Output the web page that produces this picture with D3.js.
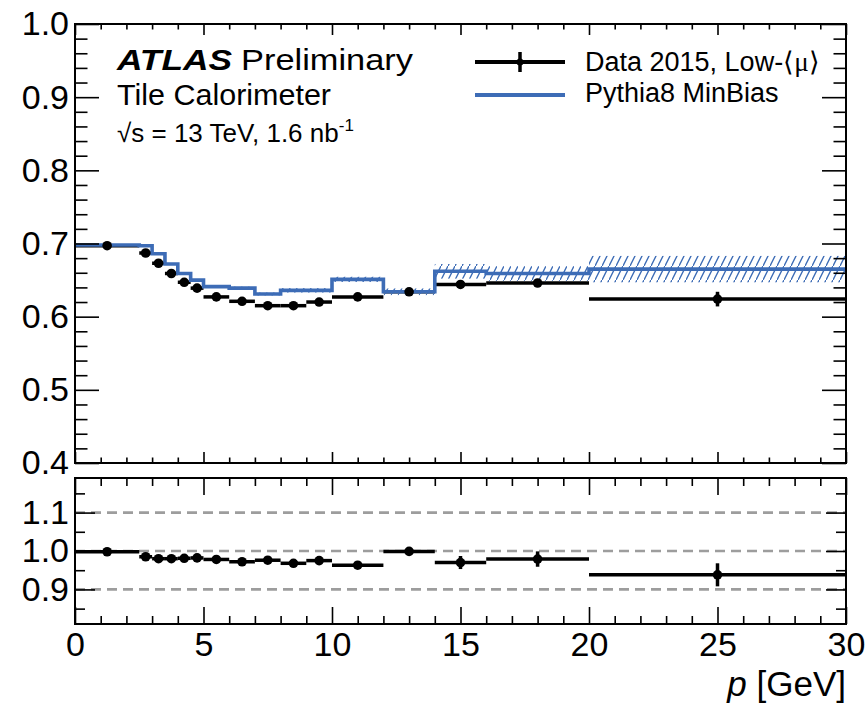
<!DOCTYPE html>
<html><head><meta charset="utf-8">
<script src="https://cdn.jsdelivr.net/npm/d3@7"></script>
<style>body{margin:0;background:#fff}</style>
</head><body>
<svg id="c" width="868" height="706"></svg>
<script>
// ---- data ----
const binEdges = [0,2.5,3,3.5,4,4.5,5,6,7,8,9,10,12,14,16,20,30];
const dataValues = [0.697,0.687,0.673,0.659,0.647,0.639,0.627,0.621,0.615,0.615,0.620,0.627,0.634,0.644,0.646,0.624];
const dataErrors = [0.001,0.001,0.001,0.001,0.001,0.001,0.001,0.001,0.001,0.001,0.001,0.002,0.002,0.003,0.004,0.010];
const mcValues = [0.698,0.697,0.686,0.672,0.659,0.650,0.641,0.639,0.631,0.636,0.636,0.651,0.634,0.662,0.659,0.665];
const mcErrors = [0.001,0.001,0.001,0.001,0.001,0.001,0.0015,0.002,0.002,0.003,0.003,0.0035,0.0045,0.010,0.010,0.018];
const ratioValues = [0.998,0.985,0.980,0.980,0.981,0.982,0.978,0.972,0.976,0.968,0.975,0.963,0.999,0.970,0.979,0.938];
const ratioErrors = [0.002,0.002,0.002,0.002,0.002,0.002,0.002,0.002,0.002,0.002,0.002,0.003,0.004,0.017,0.020,0.030];
const xTicks = [0,5,10,15,20,25,30];
const xMinorTicks = [1,2,3,4,6,7,8,9,11,12,13,14,16,17,18,19,21,22,23,24,26,27,28,29];
const topYTicks = [0.4,0.5,0.6,0.7,0.8,0.9,1.0];
const topYMinorTicks = [0.42,0.44,0.46,0.48,0.52,0.54,0.56,0.58,0.62,0.64,0.66,0.68,0.72,0.74,0.76,0.78,0.82,0.84,0.86,0.88,0.92,0.94,0.96,0.98];
const ratioYTicks = [0.9,1.0,1.1];
const ratioYMinorTicks = [0.85,0.95,1.05,1.15];
const ratioRefLines = [0.9,1.0,1.1];
const legendLabels = ["Data 2015, Low-", "Pythia8 MinBias"];

// ---- layout ----
const FONT = "'Liberation Sans', Arial, Helvetica, sans-serif";
const BLUE = "#3d6cb6";
const L = 75, R = 846;
const svg = d3.select("#c").style("font-family", FONT);
const x = d3.scaleLinear().domain([0,30]).range([L,R]);
const yTop = d3.scaleLinear().domain([0.4,1.0]).range([463,24]);
const yRat = d3.scaleLinear().domain([0.81,1.19]).range([624,478]);

const bins = binEdges.slice(0,-1).map((lo,i)=>({
  lo, hi: binEdges[i+1], c: (lo+binEdges[i+1])/2,
  d: dataValues[i], de: dataErrors[i],
  m: mcValues[i], me: mcErrors[i],
  r: ratioValues[i], re: ratioErrors[i]
}));

const defs = svg.append("defs");
const pat = defs.append("pattern").attr("id","hatch").attr("patternUnits","userSpaceOnUse")
  .attr("width",7).attr("height",14);
pat.append("path").attr("d","M0,14 L7,0 M-1,16 L0,14 M7,0 L8,-2")
  .attr("stroke",BLUE).attr("stroke-width",1.4).attr("fill","none");

// ---- axis helper ----
function ticksOnly(g, axisFn, scale, vals, size){
  g.call(axisFn(scale).tickValues(vals).tickSize(size).tickFormat(""))
   .call(s=>s.select(".domain").remove())
   .call(s=>s.selectAll("line").attr("stroke","#000").attr("stroke-width",1.6));
}

function panel(y, yT, yMin, top, bottom, xMaj, xMin, yMaj, yMinS){
  const gx1 = svg.append("g").attr("transform",`translate(0,${bottom})`);
  ticksOnly(gx1, d3.axisBottom, x, xTicks, -xMaj);
  const gx1m = svg.append("g").attr("transform",`translate(0,${bottom})`);
  ticksOnly(gx1m, d3.axisBottom, x, xMinorTicks, -xMin);
  const gx2 = svg.append("g").attr("transform",`translate(0,${top})`);
  ticksOnly(gx2, d3.axisTop, x, xTicks, -xMaj);
  const gx2m = svg.append("g").attr("transform",`translate(0,${top})`);
  ticksOnly(gx2m, d3.axisTop, x, xMinorTicks, -xMin);
  const gy1 = svg.append("g").attr("transform",`translate(${L},0)`);
  ticksOnly(gy1, d3.axisLeft, y, yT, -yMaj);
  const gy1m = svg.append("g").attr("transform",`translate(${L},0)`);
  ticksOnly(gy1m, d3.axisLeft, y, yMin, -yMinS);
  const gy2 = svg.append("g").attr("transform",`translate(${R},0)`);
  ticksOnly(gy2, d3.axisRight, y, yT, -yMaj);
  const gy2m = svg.append("g").attr("transform",`translate(${R},0)`);
  ticksOnly(gy2m, d3.axisRight, y, yMin, -yMinS);
  // labels
  const gl = svg.append("g").attr("transform",`translate(${L},0)`);
  gl.call(d3.axisLeft(y).tickValues(yT).tickSize(0).tickPadding(6).tickFormat(d3.format(".1f")))
    .call(s=>s.select(".domain").remove())
    .call(s=>s.selectAll("text").attr("font-size",34).attr("font-family",FONT).attr("fill","#000"));
  svg.append("rect").attr("x",L).attr("y",top).attr("width",R-L).attr("height",bottom-top)
    .attr("fill","none").attr("stroke","#000").attr("stroke-width",2);
}

// ---- top panel ----
const gData = svg.append("g");
gData.selectAll("line.h").data(bins).join("line")
  .attr("x1",d=>x(d.lo)).attr("x2",d=>x(d.hi)).attr("y1",d=>yTop(d.d)).attr("y2",d=>yTop(d.d))
  .attr("stroke","#000").attr("stroke-width",3.5);
gData.selectAll("line.v").data(bins).join("line")
  .attr("x1",d=>x(d.c)).attr("x2",d=>x(d.c)).attr("y1",d=>yTop(d.d-d.de)).attr("y2",d=>yTop(d.d+d.de))
  .attr("stroke","#000").attr("stroke-width",3.5);

svg.append("g").selectAll("rect").data(bins).join("rect")
  .attr("x",d=>x(d.lo)).attr("width",d=>x(d.hi)-x(d.lo))
  .attr("y",d=>yTop(d.m+d.me)).attr("height",d=>yTop(d.m-d.me)-yTop(d.m+d.me))
  .attr("fill","url(#hatch)");
const stepPts = bins.map(b=>[b.lo,b.m]).concat([[binEdges[binEdges.length-1], mcValues[mcValues.length-1]]]);
svg.append("path").datum(stepPts)
  .attr("d", d3.line().x(d=>x(d[0])).y(d=>yTop(d[1])).curve(d3.curveStepAfter))
  .attr("fill","none").attr("stroke",BLUE).attr("stroke-width",3.6);
svg.append("g").selectAll("circle").data(bins).join("circle")
  .attr("cx",d=>x(d.c)).attr("cy",d=>yTop(d.d)).attr("r",4.8).attr("fill","#000");

panel(yTop, topYTicks, topYMinorTicks, 24, 463, 11, 5.5, 24, 12.5);

// ---- ratio panel ----
svg.append("g").selectAll("line").data(ratioRefLines).join("line")
  .attr("x1",L).attr("x2",R).attr("y1",d=>yRat(d)).attr("y2",d=>yRat(d))
  .attr("stroke","#9d9d9d").attr("stroke-width",2.6).attr("stroke-dasharray","10,6");
const gR = svg.append("g");
gR.selectAll("line.h").data(bins).join("line")
  .attr("x1",d=>x(d.lo)).attr("x2",d=>x(d.hi)).attr("y1",d=>yRat(d.r)).attr("y2",d=>yRat(d.r))
  .attr("stroke","#000").attr("stroke-width",3.5);
gR.selectAll("line.v").data(bins).join("line")
  .attr("x1",d=>x(d.c)).attr("x2",d=>x(d.c)).attr("y1",d=>yRat(d.r-d.re)).attr("y2",d=>yRat(d.r+d.re))
  .attr("stroke","#000").attr("stroke-width",3.5);
gR.selectAll("circle").data(bins).join("circle")
  .attr("cx",d=>x(d.c)).attr("cy",d=>yRat(d.r)).attr("r",4.8).attr("fill","#000");

panel(yRat, ratioYTicks, ratioYMinorTicks, 478, 624, 17, 8, 20, 10);

const gxl = svg.append("g").attr("transform","translate(0,624)");
gxl.call(d3.axisBottom(x).tickValues(xTicks).tickSize(0).tickPadding(8).tickFormat(d3.format("d")))
  .call(s=>s.select(".domain").remove())
  .call(s=>s.selectAll("text").attr("font-size",34).attr("font-family",FONT).attr("fill","#000"));

const xt = svg.append("text").attr("x",R).attr("y",696).attr("text-anchor","end")
  .attr("font-size",35).attr("fill","#000");
xt.append("tspan").attr("font-style","italic").text("p");
xt.append("tspan").text(" [GeV]");

// ---- annotations ----
svg.append("text").attr("x",117).attr("y",70).attr("font-size",30).attr("font-weight","bold")
  .attr("font-style","italic").attr("textLength",115).attr("lengthAdjust","spacingAndGlyphs").text("ATLAS");
svg.append("text").attr("x",241).attr("y",70).attr("font-size",30)
  .attr("textLength",172).attr("lengthAdjust","spacingAndGlyphs").text("Preliminary");
svg.append("text").attr("x",117).attr("y",105).attr("font-size",29)
  .attr("textLength",214).attr("lengthAdjust","spacingAndGlyphs").text("Tile Calorimeter");
const t3 = svg.append("text").attr("x",117).attr("y",142).attr("font-size",26);
t3.append("tspan").text("\u221As = 13 TeV, 1.6 nb");
t3.append("tspan").attr("font-size",17).attr("dy",-11).text("-1");

// ---- legend ----
const lg = svg.append("g");
lg.append("line").attr("x1",475).attr("x2",565).attr("y1",62).attr("y2",62).attr("stroke","#000").attr("stroke-width",4);
lg.append("line").attr("x1",520).attr("x2",520).attr("y1",52).attr("y2",72).attr("stroke","#000").attr("stroke-width",3.5);
lg.append("circle").attr("cx",520).attr("cy",62).attr("r",3.5).attr("fill","#000");
const lt1 = lg.append("text").attr("x",585).attr("y",71).attr("font-size",27);
lt1.append("tspan").text(legendLabels[0]);
lt1.append("tspan").text("\u27E8");
lt1.append("tspan").attr("font-family","'Liberation Serif', 'DejaVu Serif', serif").text("\u03BC");
lt1.append("tspan").text("\u27E9");
lg.append("line").attr("x1",475).attr("x2",565).attr("y1",95).attr("y2",95).attr("stroke",BLUE).attr("stroke-width",4);
lg.append("text").attr("x",585).attr("y",102).attr("font-size",27).text(legendLabels[1]);
</script>
</body></html>
